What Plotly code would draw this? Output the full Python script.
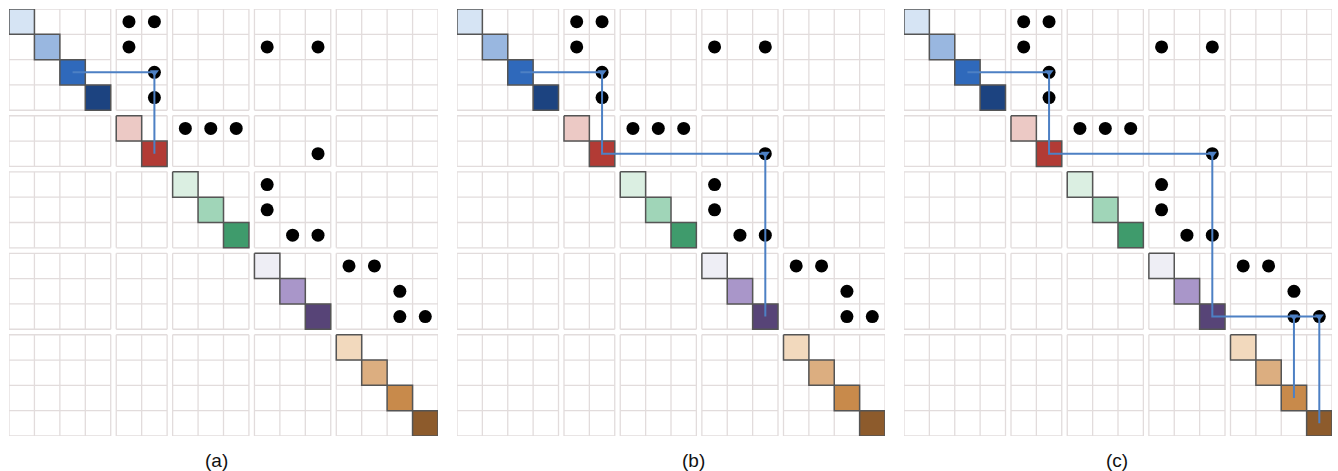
import plotly.graph_objects as go

# ---------------- data ----------------
block_sizes = [4, 2, 3, 3, 4]
diag_colors = [
    "#d6e4f4", "#99b7e0", "#2f69bb", "#1c4380",          # blues
    "#ecc9c5", "#b23b35",                                # reds
    "#dbefe2", "#a0d5b8", "#3f9b6c",                     # greens
    "#eeeef5", "#a996c9", "#574477",                     # purples
    "#f2d9bd", "#dcae80", "#c88a4b", "#8d5b2c",          # browns
]
dot_rows = [0, 0, 1, 1, 1, 2, 3, 4, 4, 4, 5, 6, 7, 8, 8, 9, 9, 10, 11, 11]
dot_cols = [4, 5, 4, 9, 11, 5, 5, 6, 7, 8, 11, 9, 9, 10, 11, 12, 13, 14, 14, 15]
panel_labels = ["(a)", "(b)", "(c)"]
# connecting paths (row, col) sequences for each panel
panel_paths = [
    [[(2, 2), (2, 5), (5, 5)]],
    [[(2, 2), (2, 5), (5, 5), (5, 11), (11, 11)]],
    [[(2, 2), (2, 5), (5, 5), (5, 11), (11, 11), (11, 15), (15, 15)],
     [(11, 14), (14, 14)]],
]
panel_corners = [
    [(2, 5)],
    [(2, 5), (5, 11)],
    [(2, 5), (5, 11), (11, 14), (11, 15)],
]

# ---------------- geometry helpers ----------------
W, H = 1338, 471
GAP = 0.217
N = sum(block_sizes)
block_of = []
for b, s in enumerate(block_sizes):
    block_of += [b] * s


def start(i):
    return i + GAP * block_of[i]


TOTAL = N + GAP * (len(block_sizes) - 1)


def center(i):
    return start(i) + 0.5


block_starts = []
acc = 0
for s in block_sizes:
    block_starts.append(acc)
    acc += s

panel_px = [(9, 438), (457, 885), (904, 1332)]
label_px = [216, 693, 1117]
y_px = (9, 436)

LINE_COLOR = "#4d80c4"
GRID_COLOR = "#e2dcdc"

fig = go.Figure()
layout_axes = {}

for p in range(3):
    xa = "x" if p == 0 else f"x{p+1}"
    ya = "y" if p == 0 else f"y{p+1}"
    # grid lines
    gx, gy = [], []
    for bi, bs in enumerate(block_sizes):
        r0 = start(block_starts[bi])
        r1 = r0 + bs
        for bj, bsj in enumerate(block_sizes):
            c0 = start(block_starts[bj])
            c1 = c0 + bsj
            for k in range(bsj + 1):
                gx += [c0 + k, c0 + k, None]
                gy += [r0, r1, None]
            for k in range(bs + 1):
                gx += [c0, c1, None]
                gy += [r0 + k, r0 + k, None]
    fig.add_trace(go.Scatter(x=gx, y=gy, mode="lines", xaxis=xa, yaxis=ya,
                             line=dict(color=GRID_COLOR, width=1.3),
                             hoverinfo="skip", showlegend=False))
    # diagonal cells
    for i in range(N):
        s0 = start(i)
        fig.add_trace(go.Scatter(
            x=[s0, s0 + 1, s0 + 1, s0, s0], y=[s0, s0, s0 + 1, s0 + 1, s0],
            mode="lines", fill="toself", fillcolor=diag_colors[i],
            line=dict(color="#555555", width=1.5), xaxis=xa, yaxis=ya,
            hoverinfo="skip", showlegend=False))
    # dots
    fig.add_trace(go.Scatter(
        x=[center(c) for c in dot_cols], y=[center(r) for r in dot_rows],
        mode="markers", marker=dict(color="black", size=13),
        xaxis=xa, yaxis=ya, hoverinfo="skip", showlegend=False))
    # paths
    for path in panel_paths[p]:
        fig.add_trace(go.Scatter(
            x=[center(c) for r, c in path], y=[center(r) for r, c in path],
            mode="lines", line=dict(color=LINE_COLOR, width=2),
            xaxis=xa, yaxis=ya, hoverinfo="skip", showlegend=False))
    corners = panel_corners[p]
    fig.add_trace(go.Scatter(
        x=[center(c) for r, c in corners], y=[center(r) for r, c in corners],
        mode="markers", marker=dict(color=LINE_COLOR, size=8, symbol="triangle-down"),
        xaxis=xa, yaxis=ya, hoverinfo="skip", showlegend=False))

    x0, x1 = panel_px[p]
    xkey = "xaxis" if p == 0 else f"xaxis{p+1}"
    ykey = "yaxis" if p == 0 else f"yaxis{p+1}"
    layout_axes[xkey] = dict(domain=[x0 / W, x1 / W], range=[0, TOTAL],
                             visible=False, fixedrange=True, anchor=ya)
    layout_axes[ykey] = dict(domain=[(H - y_px[1]) / H, (H - y_px[0]) / H],
                             range=[TOTAL, 0], visible=False, fixedrange=True,
                             anchor=xa)
    fig.add_annotation(text=panel_labels[p], xref="paper", yref="paper",
                       x=label_px[p] / W, y=(H - 460) / H,
                       showarrow=False, xanchor="center", yanchor="middle",
                       font=dict(family="Arial, Liberation Sans", size=19, color="#111"))

fig.update_layout(width=W, height=H, margin=dict(l=0, r=0, t=0, b=0),
                  paper_bgcolor="white", plot_bgcolor="white", **layout_axes)

fig.write_html("out.html", config={"displayModeBar": False},
               post_script="document.body.style.margin='0';document.body.style.overflow='hidden';")
